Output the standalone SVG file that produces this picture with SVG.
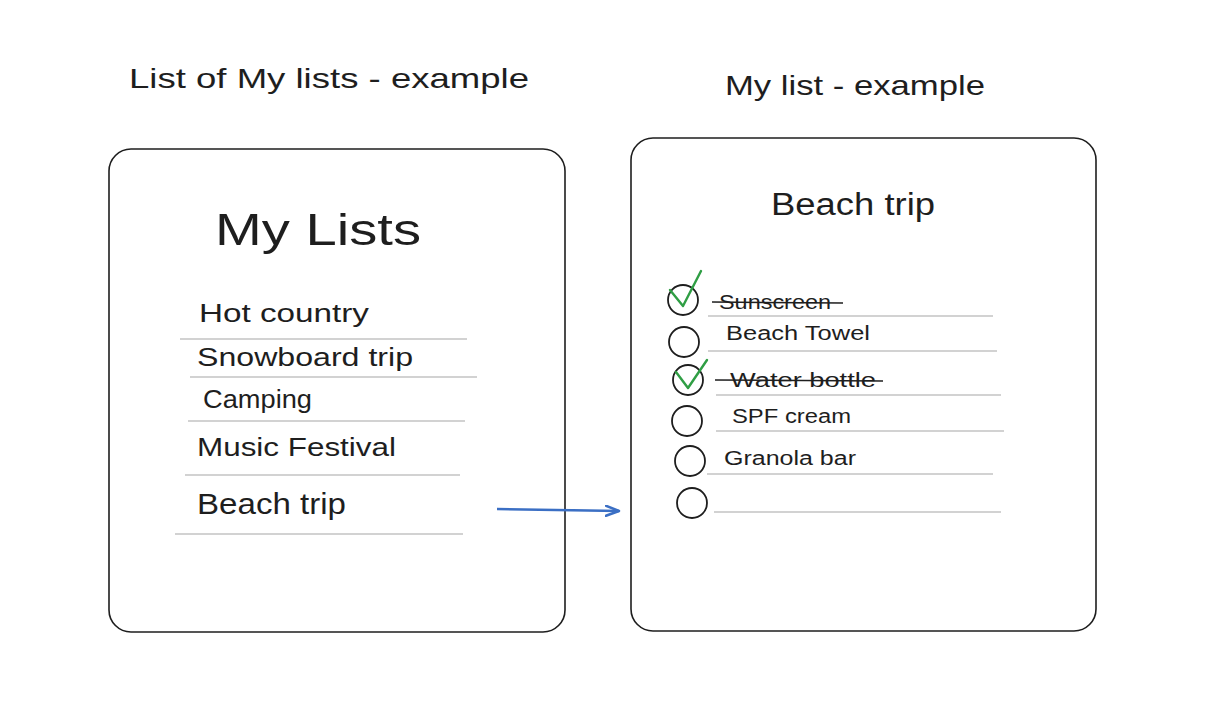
<svg xmlns="http://www.w3.org/2000/svg" width="1214" height="714" viewBox="0 0 1214 714">
<defs>
<style>
text{font-family:"Liberation Sans","DejaVu Sans",sans-serif;fill:#1e1e1e}
.box{fill:#fff;stroke:#1e1e1e;stroke-width:1.6}
.rule{stroke:#d2d2d2;stroke-width:1.8;fill:none}
.circ{fill:none;stroke:#1e1e1e;stroke-width:1.8}
.chk{fill:none;stroke:#2f9e44;stroke-width:2.4;stroke-linecap:round;stroke-linejoin:round}
.strike{stroke:#1e1e1e;stroke-width:1.5}
.t1{font-size:28px}
.item{font-size:25px}
.ritem{font-size:20px}
</style>
<marker id="ah" markerWidth="16" markerHeight="12" refX="14" refY="6" orient="auto" markerUnits="userSpaceOnUse">
<path d="M1,1 L14,6 L1,11" fill="none" stroke="#3b6fc4" stroke-width="2.5" stroke-linecap="round" stroke-linejoin="round"/>
</marker>
</defs>
<rect width="1214" height="714" fill="#fff"/>
<g id="title-left"><text class="t1" x="129" y="88" textLength="400" lengthAdjust="spacingAndGlyphs">List of My lists - example</text></g>
<g id="title-right"><text class="t1" x="725" y="95" textLength="260" lengthAdjust="spacingAndGlyphs">My list - example</text></g>

<g id="my-lists">
<rect class="box" x="109" y="149" width="456" height="483" rx="22"/>
<text x="215" y="245" font-size="44" textLength="206" lengthAdjust="spacingAndGlyphs">My Lists</text>
<text class="item" x="199" y="322" textLength="170" lengthAdjust="spacingAndGlyphs">Hot country</text>
<line class="rule" x1="180" y1="339" x2="467" y2="339"/>
<text class="item" x="197" y="366" textLength="216" lengthAdjust="spacingAndGlyphs">Snowboard trip</text>
<line class="rule" x1="190" y1="377" x2="477" y2="377"/>
<text class="item" x="203" y="408" textLength="109" lengthAdjust="spacingAndGlyphs">Camping</text>
<line class="rule" x1="188" y1="421" x2="465" y2="421"/>
<text class="item" x="197" y="456" textLength="199" lengthAdjust="spacingAndGlyphs">Music Festival</text>
<line class="rule" x1="185" y1="475" x2="460" y2="475"/>
<text x="197" y="514" font-size="29" textLength="149" lengthAdjust="spacingAndGlyphs">Beach trip</text>
<line class="rule" x1="175" y1="534" x2="463" y2="534"/>
</g>

<g id="beach-trip">
<rect class="box" x="631" y="138" width="465" height="493" rx="22"/>
<text x="771" y="215" font-size="31" textLength="164" lengthAdjust="spacingAndGlyphs">Beach trip</text>
<circle class="circ" cx="683" cy="300" r="15"/>
<path class="chk" d="M670,290 L683,306 L701,271"/>
<text class="ritem" x="719" y="309" textLength="112" lengthAdjust="spacingAndGlyphs">Sunscreen</text>
<line class="strike" x1="712" y1="302" x2="843" y2="303"/>
<line class="rule" x1="708" y1="316" x2="993" y2="316"/>
<circle class="circ" cx="684" cy="342" r="15"/>
<text class="ritem" x="726" y="340" textLength="144" lengthAdjust="spacingAndGlyphs">Beach Towel</text>
<line class="rule" x1="708" y1="351" x2="997" y2="351"/>
<circle class="circ" cx="688" cy="380" r="15"/>
<path class="chk" d="M676,372 L688,388 L707,360"/>
<text class="ritem" x="730" y="387" textLength="146" lengthAdjust="spacingAndGlyphs">Water bottle</text>
<line class="strike" x1="715" y1="380" x2="883" y2="381"/>
<line class="rule" x1="716" y1="395" x2="1001" y2="395"/>
<circle class="circ" cx="687" cy="421" r="15"/>
<text class="ritem" x="732" y="423" textLength="119" lengthAdjust="spacingAndGlyphs">SPF cream</text>
<line class="rule" x1="716" y1="431" x2="1004" y2="431"/>
<circle class="circ" cx="690" cy="461" r="15"/>
<text class="ritem" x="724" y="465" textLength="132" lengthAdjust="spacingAndGlyphs">Granola bar</text>
<line class="rule" x1="707" y1="474" x2="993" y2="474"/>
<circle class="circ" cx="692" cy="503" r="15"/>
<line class="rule" x1="714" y1="512" x2="1001" y2="512"/>
</g>

<g id="connectors">
<path d="M497,509 L619,511" fill="none" stroke="#3b6fc4" stroke-width="2.5" marker-end="url(#ah)"/>
</g>
</svg>
